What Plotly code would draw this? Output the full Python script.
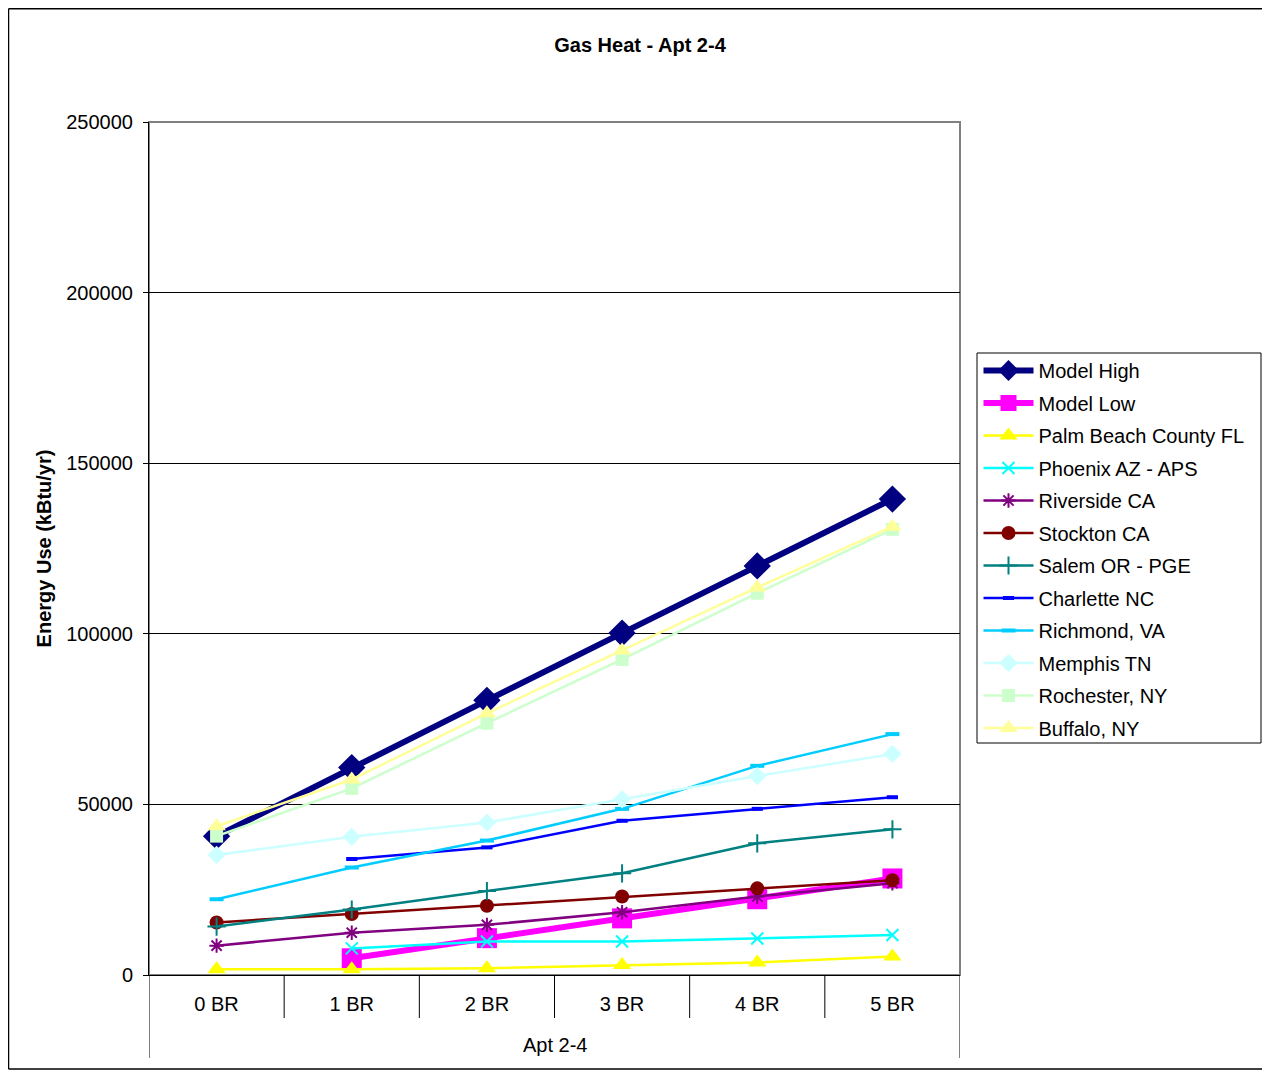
import plotly.graph_objects as go

categories = ["0 BR", "1 BR", "2 BR", "3 BR", "4 BR", "5 BR"]
group_label = "Apt 2-4"

model_high = [40700, 60800, 80500, 100200, 119900, 139500]
model_low = [None, 4900, 10800, 16600, 22200, 28300]
palm_beach = [1700, 1700, 2000, 2900, 3700, 5400]
phoenix = [None, 7800, 9800, 9800, 10700, 11700]
riverside = [8600, 12400, 14700, 18400, 23000, 26900]
stockton = [15400, 17900, 20300, 23000, 25400, 27800]
salem = [14200, 19200, 24600, 29800, 38600, 42700]
charlette = [None, 34000, 37400, 45200, 48700, 52100]
richmond = [22200, 31500, 39400, 48700, 61300, 70600]
memphis = [35200, 40500, 44700, 51500, 58300, 64800]
rochester = [40700, 54700, 73800, 92500, 111900, 130600]
buffalo = [43600, 57300, 76700, 95100, 113600, 131400]

series = [
    ("Model High", model_high, "#000080", 6, "diamond", 21, 0),
    ("Model Low", model_low, "#FF00FF", 6, "square", 20, 0),
    ("Palm Beach County FL", palm_beach, "#FFFF00", 2.5, "triangle-up", 16, 0),
    ("Phoenix AZ - APS", phoenix, "#00FFFF", 2.5, "x-thin-open", 12, 2),
    ("Riverside CA", riverside, "#800080", 2.5, "asterisk-open", 12, 2),
    ("Stockton CA", stockton, "#800000", 2.5, "circle", 14, 0),
    ("Salem OR - PGE", salem, "#008080", 2.5, "cross-thin-open", 13, 2),
    ("Charlette NC", charlette, "#0000FF", 2.5, "line-ew-open", 8, 4),
    ("Richmond, VA", richmond, "#00CCFF", 2.5, "line-ew-open", 10, 4),
    ("Memphis TN", memphis, "#CCFFFF", 2.5, "diamond", 14, 0),
    ("Rochester, NY", rochester, "#CCFFCC", 2.5, "square", 13, 0),
    ("Buffalo, NY", buffalo, "#FFFF99", 2.5, "triangle-up", 16, 0),
]

fig = go.Figure()
for i, (name, vals, color, lw, sym, msize, mlw) in enumerate(series):
    marker = dict(symbol=sym, size=msize, color=color)
    if mlw:
        marker["line"] = dict(color=color, width=mlw)
    fig.add_trace(go.Scatter(
        x=categories, y=vals, name=name, mode="lines+markers",
        line=dict(color=color, width=lw), marker=marker,
        legendgroup=f"g{i}", connectgaps=False,
    ))

FONT = "Liberation Sans, Arial, sans-serif"
OFF = 8  # browser body margin
W, H = 1270 - 2 * OFF, 1078 - 2 * OFF
L, T = 149 - OFF, 122 - OFF
R = W - (960 - OFF)
B = H - (975 - OFF)
pw, ph = W - L - R, H - T - B

def px(xi):
    return (xi - OFF - L) / pw

def py(yi):
    return (H - B - (yi - OFF)) / ph

frame = dict(color="black", width=1.5)
shapes = [
    dict(type="rect", xref="paper", yref="paper", x0=0, x1=1, y0=0, y1=1,
         line=dict(color="#808080", width=2), layer="below"),
    dict(type="line", xref="paper", yref="paper", x0=px(8.5), x1=px(8.5), y0=py(1069), y1=py(8.7),
         line=frame, layer="below"),
    dict(type="line", xref="paper", yref="paper", x0=px(8.5), x1=px(1262), y0=py(8.7), y1=py(8.7),
         line=frame, layer="below"),
    dict(type="line", xref="paper", yref="paper", x0=px(8.5), x1=px(1262), y0=py(1069), y1=py(1069),
         line=frame, layer="below"),
    dict(type="rect", xref="paper", yref="paper", x0=px(977), x1=px(1261), y0=py(743), y1=py(353),
         line=dict(color="black", width=1), layer="above"),
]
for k in range(len(categories) - 1):
    shapes.append(dict(type="line", xref="x", yref="paper", x0=k + 0.5, x1=k + 0.5,
                       y0=0, y1=py(1018), line=dict(color="black", width=1)))
for xe in (-0.5, len(categories) - 0.5):
    shapes.append(dict(type="line", xref="x", yref="paper", x0=xe, x1=xe,
                       y0=0, y1=py(1058), line=dict(color="black", width=1)))

fig.update_layout(
    width=W, height=H,
    margin=dict(l=L, r=R, t=T, b=B, pad=0),
    paper_bgcolor="white", plot_bgcolor="white",
    font=dict(family=FONT, size=20, color="black"),
    title=dict(text="<b>Gas Heat - Apt 2-4</b>", x=(640 - OFF) / W, xref="container", xanchor="center",
               y=1 - (45 - OFF) / H, yref="container", yanchor="middle", font=dict(size=20)),
    showlegend=True,
    legend=dict(x=px(978.5), y=py(351), xanchor="left", yanchor="top",
                borderwidth=0, bgcolor="rgba(0,0,0,0)",
                font=dict(size=20), itemwidth=50, tracegroupgap=3.5,
                traceorder="grouped"),
    xaxis=dict(type="category", range=[-0.5, len(categories) - 0.5],
               showline=True, linecolor="black", linewidth=1,
               ticks="", ticklabelstandoff=11,
               showgrid=False, tickfont=dict(size=20)),
    yaxis=dict(range=[0, 250000], dtick=50000, tickformat="d",
               showline=True, linecolor="black", linewidth=1,
               ticks="outside", ticklen=5, tickcolor="black", ticklabelstandoff=6,
               showgrid=True, gridcolor="black", gridwidth=1, zeroline=False,
               title=dict(text="<b>Energy Use (kBtu/yr)</b>", font=dict(size=20), standoff=9),
               tickfont=dict(size=20)),
    shapes=shapes,
    annotations=[dict(text=group_label, xref="x", yref="paper", x=(len(categories) - 1) / 2,
                      y=py(1045), xanchor="center", yanchor="middle", showarrow=False,
                      font=dict(size=20))],
)

fig.write_html("out.html")
